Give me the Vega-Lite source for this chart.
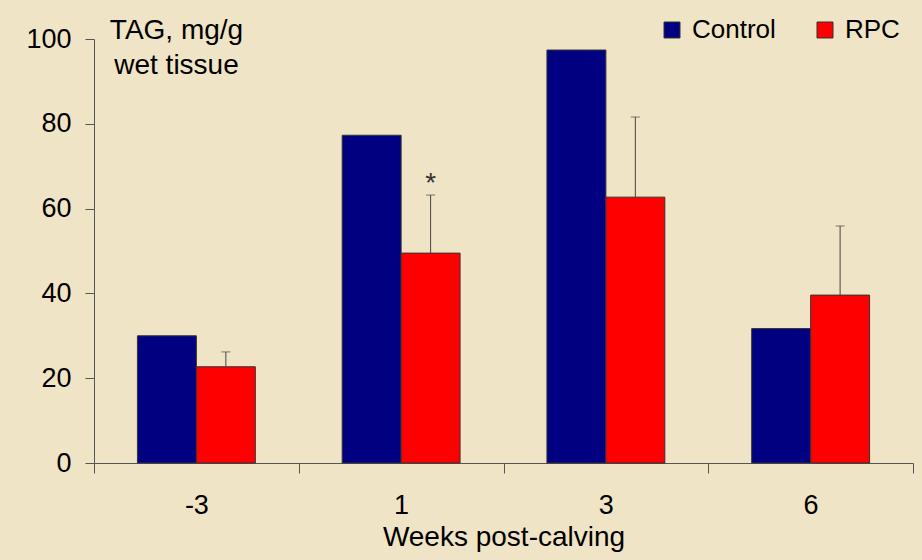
{
  "$schema": "https://vega.github.io/schema/vega-lite/v6.json",
  "width": 819,
  "height": 424,
  "autosize": {"type": "none"},
  "padding": {"left": 94, "top": 39, "right": 9, "bottom": 97},
  "background": "#f0e4c6",
  "config": {
    "font": "Liberation Sans",
    "view": {"stroke": null},
    "axis": {"domainColor": "#555555", "tickColor": "#555555", "labelColor": "#000000", "titleColor": "#000000", "grid": false, "labelFontWeight": "normal", "titleFontWeight": "normal"}
  },
  "data": {
    "values": [
      {"week": "-3", "group": "Control", "value": 30.0},
      {"week": "-3", "group": "RPC", "value": 22.7, "err": 26.2},
      {"week": "1", "group": "Control", "value": 77.3},
      {"week": "1", "group": "RPC", "value": 49.5, "err": 63.2, "sig": "*"},
      {"week": "3", "group": "Control", "value": 97.4},
      {"week": "3", "group": "RPC", "value": 62.7, "err": 81.6},
      {"week": "6", "group": "Control", "value": 31.7},
      {"week": "6", "group": "RPC", "value": 39.6, "err": 55.9}
    ]
  },
  "encoding": {
    "x": {
      "field": "week", "type": "nominal", "sort": ["-3", "1", "3", "6"],
      "scale": {"paddingInner": 0, "paddingOuter": 0},
      "axis": {"title": "Weeks post-calving", "labelAngle": 0, "labelFontSize": 27, "labelPadding": 19, "tickSize": 10, "tickBand": "extent", "titleFontSize": 28, "titlePadding": 5}
    },
    "xOffset": {"field": "group", "type": "nominal", "sort": ["Control", "RPC"], "scale": {"paddingInner": 0, "paddingOuter": 0.737}}
  },
  "layer": [
    {
      "mark": {"type": "bar", "stroke": "#333333", "strokeWidth": 1},
      "encoding": {
        "y": {
          "field": "value", "type": "quantitative",
          "scale": {"domain": [0, 100], "nice": false},
          "axis": {"values": [0, 20, 40, 60, 80, 100], "labelFontSize": 27, "tickSize": 9, "labelPadding": 14, "title": ["TAG, mg/g", "wet tissue"], "titleAngle": 0, "titleFontSize": 28, "titleAlign": "center", "titleBaseline": "alphabetic", "titleX": 82, "titleY": -1, "titleLineHeight": 35}
        },
        "color": {
          "field": "group", "type": "nominal", "sort": ["Control", "RPC"],
          "scale": {"domain": ["Control", "RPC"], "range": ["#000080", "#ff0000"]},
          "legend": {"title": null, "orient": "none", "legendX": 565, "legendY": -22, "direction": "horizontal", "symbolType": "square", "symbolSize": 256, "symbolStrokeColor": "#333333", "symbolStrokeWidth": 1, "labelFontSize": 26, "labelColor": "#000000", "labelOffset": 7, "columnPadding": 36}
        }
      }
    },
    {
      "transform": [{"filter": "isValid(datum.err)"}],
      "mark": {"type": "rule", "color": "#444444", "strokeWidth": 1},
      "encoding": {
        "y": {"field": "value", "type": "quantitative"},
        "y2": {"field": "err"}
      }
    },
    {
      "transform": [{"filter": "isValid(datum.err)"}],
      "mark": {"type": "tick", "orient": "horizontal", "size": 9, "thickness": 1, "color": "#444444"},
      "encoding": {
        "y": {"field": "err", "type": "quantitative"}
      }
    },
    {
      "transform": [{"filter": "isValid(datum.sig)"}],
      "mark": {"type": "text", "fontSize": 28, "color": "#333333", "baseline": "alphabetic", "dy": -3},
      "encoding": {
        "y": {"field": "err", "type": "quantitative"},
        "text": {"field": "sig"}
      }
    }
  ]
}
